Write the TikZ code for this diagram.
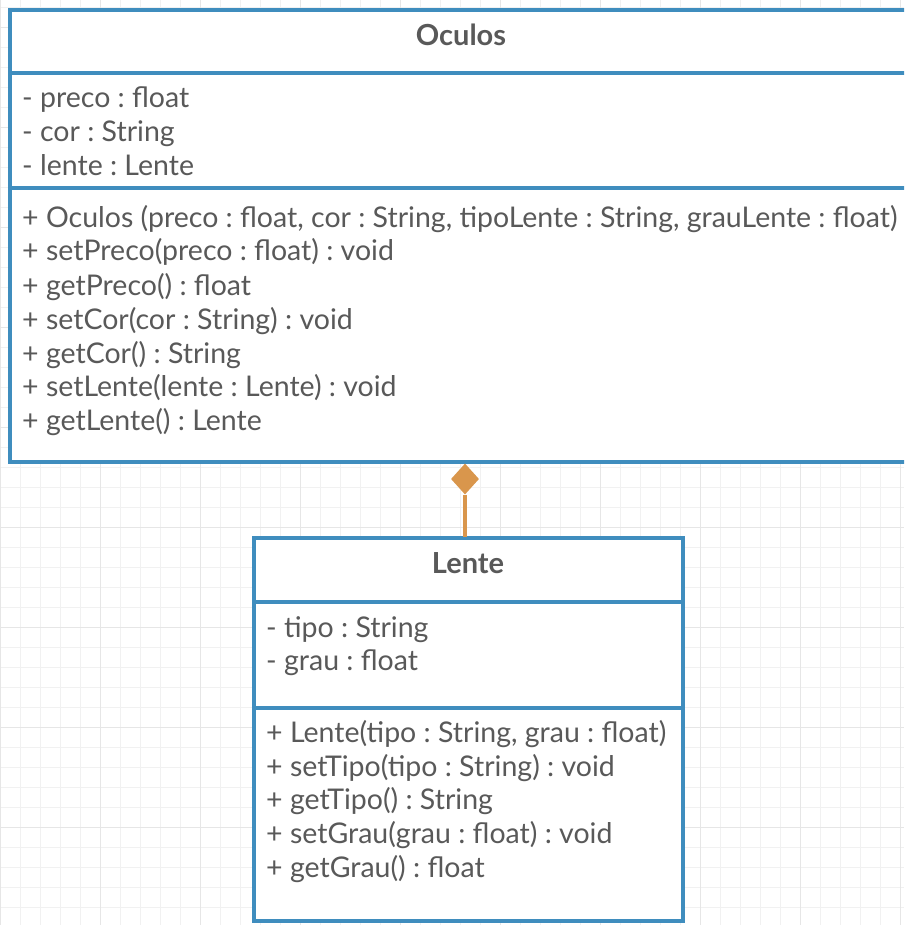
\documentclass[tikz,border=0pt]{standalone}
\usepackage{fontspec}
\setmainfont{Lato}
\usetikzlibrary{shapes.geometric}
\definecolor{umlblue}{HTML}{3F8DBE}
\definecolor{umltext}{HTML}{595959}
\definecolor{umlorange}{HTML}{D9964C}
\definecolor{gridminor}{HTML}{F1F1F1}
\definecolor{gridmajor}{HTML}{E6E6E6}
\tikzset{
  umlbox/.style={draw=umlblue, line width=3.4pt, fill=white},
  umlsep/.style={draw=umlblue, line width=3.4pt},
  member/.style={anchor=west, inner sep=0pt, text height=20pt, text depth=6pt, text=umltext, font=\fontsize{28.5}{33}\selectfont\frenchspacing},
  umltitle/.style={inner sep=0pt, text=umltext, font=\fontsize{29}{33}\selectfont\bfseries},
  compose/.style={draw=umlorange, line width=3.4pt},
  diamondtip/.style={diamond, fill=umlorange, inner sep=0pt, minimum width=28pt, minimum height=31pt}
}
\begin{document}
\begin{tikzpicture}[x=1pt,y=-1pt]
\useasboundingbox (0,0) rectangle (904,925);
\clip (0,0) rectangle (904,925);
\fill[white] (0,0) rectangle (904,925);
% grid
\foreach \gx in {0,20,...,900} {\draw[gridminor, line width=0.8pt] (\gx,0) -- (\gx,925);}
\foreach \gy in {7,27,...,925} {\draw[gridminor, line width=0.8pt] (0,\gy) -- (904,\gy);}
\foreach \gx in {0,100,...,900} {\draw[gridmajor, line width=0.9pt] (\gx,0) -- (\gx,925);}
\foreach \gy in {27,127,...,925} {\draw[gridmajor, line width=0.9pt] (0,\gy) -- (904,\gy);}

% Oculos box
\draw[umlbox] (10,10) rectangle (914,462);
\draw[umlsep] (10,73) -- (914,73);
\draw[umlsep] (10,188) -- (914,188);
\node[umltitle] (otitle) at (461,35) {Oculos};
\node[member] (oa1) at (22,101) {- preco : float};
\node[member] (oa2) at (22,135) {- cor : String};
\node[member] (oa3) at (22,169) {- lente : Lente};
\node[member] (om1) at (22,220) {+ Oculos (preco : float, cor : String, tipoLente : String, grauLente : float)};
\node[member] (om2) at (22,253) {+ setPreco(preco : float) : void};
\node[member] (om3) at (22,288) {+ getPreco() : float};
\node[member] (om4) at (22,322) {+ setCor(cor : String) : void};
\node[member] (om5) at (22,356) {+ getCor() : String};
\node[member] (om6) at (22,389) {+ setLente(lente : Lente) : void};
\node[member] (om7) at (22,423) {+ getLente() : Lente};
\coordinate (obot) at (465,462);

% Lente box
\draw[umlbox] (254,538) rectangle (683,921);
\draw[umlsep] (254,602) -- (683,602);
\draw[umlsep] (254,708) -- (683,708);
\node[umltitle] (ltitle) at (468,563) {Lente};
\node[member] (la1) at (266,630) {- tipo : String};
\node[member] (la2) at (266,663) {- grau : float};
\node[member] (lm1) at (266,735) {+ Lente(tipo : String, grau : float)};
\node[member] (lm2) at (266,769) {+ setTipo(tipo : String) : void};
\node[member] (lm3) at (266,802) {+ getTipo() : String};
\node[member] (lm4) at (266,836) {+ setGrau(grau : float) : void};
\node[member] (lm5) at (266,870) {+ getGrau() : float};
\coordinate (ltop) at (465,537);

% composition
\node[diamondtip] (dia) at (465,479) {};
\draw[compose] (dia.south) -- (ltop);
\end{tikzpicture}
\end{document}
